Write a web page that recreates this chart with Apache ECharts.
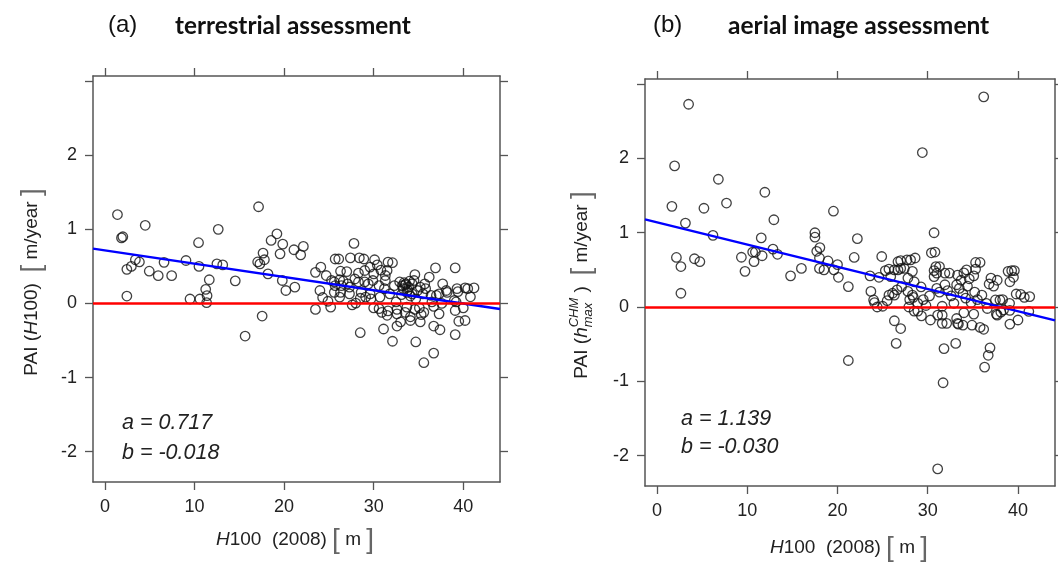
<!DOCTYPE html>
<html style="height: 100%">
<head>
<meta charset="utf-8">
<script src="https://cdn.jsdelivr.net/npm/echarts@6/dist/echarts.min.js"></script>
</head>
<body style="height: 100%; margin: 0; background: #fff">
<div id="container" style="width: 1058px; height: 563px"></div>
<script type="text/javascript">
// axis ticks (shared by both panels)
var xTicks = [0, 10, 20, 30, 40];
var yTicks = [-2, -1, 0, 1, 2, 3];
var yLabels = [-2, -1, 0, 1, 2];
var xRange = [-1.33, 44.1];
var yRange = [-2.41, 3.07];

// (a) terrestrial assessment: [H100 2008, PAI]
var terrestrialPoints = [
    [1.4, 1.20], [1.85, 0.885], [2.0, 0.90], [2.45, 0.46], [2.45, 0.10], [2.95, 0.50], [3.4, 0.59],
    [3.85, 0.56], [4.5, 1.055], [4.95, 0.435], [5.95, 0.375], [6.6, 0.555], [7.45, 0.375], [9.05, 0.58],
    [9.5, 0.06], [10.45, 0.82], [10.5, 0.50], [10.6, 0.06], [11.25, 0.19], [11.4, 0.105], [11.35, 0.01],
    [11.65, 0.32], [12.5, 0.535], [12.65, 1.0], [13.15, 0.52], [14.55, 0.305], [15.65, -0.44], [17.15, 1.305],
    [17.05, 0.56], [17.3, 0.535], [17.55, -0.17], [17.65, 0.68], [17.8, 0.59], [18.2, 0.40], [18.55, 0.85],
    [19.2, 0.94], [19.55, 0.67], [19.85, 0.80], [19.8, 0.31], [20.2, 0.175], [21.1, 0.725], [21.2, 0.22],
    [21.85, 0.655], [22.15, 0.77],
    [23.5, 0.42], [24.1, 0.49], [24.0, 0.175], [24.3, 0.08], [24.7, 0.377], [24.9, 0.03], [25.3, 0.31],
    [25.6, 0.29], [25.6, 0.15], [25.7, 0.60], [25.7, 0.24], [26.1, 0.60], [26.3, 0.435], [26.2, 0.32],
    [26.4, 0.24], [26.3, 0.15], [26.2, 0.085], [26.6, 0.30], [27.0, 0.43], [27.1, 0.265], [27.3, 0.13],
    [27.3, 0.22], [27.4, 0.615], [27.8, 0.81], [27.9, 0.33], [28.0, 0.005], [28.3, 0.41], [28.3, 0.29],
    [28.4, 0.615], [28.6, 0.15], [28.5, 0.07], [28.9, 0.60], [29.0, 0.445], [29.0, 0.29], [29.1, 0.085],
    [29.4, 0.265], [29.6, 0.49], [29.6, 0.13], [29.7, 0.063], [29.9, 0.31], [30.0, 0.40], [30.1, 0.59],
    [30.4, 0.52], [30.6, 0.24], [30.7, 0.085], [30.8, 0.45], [31.2, 0.2], [31.3, 0.31], [31.3, 0.377],
    [31.5, 0.445], [31.6, 0.557], [31.8, 0.13], [32.1, 0.55], [32.3, 0.24], [32.5, 0.02], [32.9, 0.29],
    [33.1, 0.12], [33.2, 0.24], [33.3, 0.20], [33.4, 0.28], [33.5, 0.25], [33.6, 0.265], [33.7, 0.15],
    [33.8, 0.18], [33.9, 0.22], [34.0, 0.30], [34.1, 0.10], [34.3, 0.265], [34.3, 0.13], [34.5, 0.31],
    [34.6, 0.39], [34.7, 0.063], [34.9, 0.175], [35.2, 0.22], [35.5, 0.13], [35.7, 0.265], [35.8, 0.2],
    [36.2, 0.355], [36.4, 0.108], [36.5, 0.02], [36.9, 0.48], [37.0, 0.108], [37.3, 0.13], [37.7, 0.265],
    [38.1, 0.175], [38.2, 0.15], [39.0, 0.04], [39.1, 0.48], [39.2, 0.02], [39.3, 0.2], [39.4, 0.16],
    [40.2, 0.21], [40.5, 0.2], [40.8, 0.09], [41.2, 0.21],
    [23.5, -0.08], [25.2, -0.05], [27.6, -0.02], [28.5, -0.395], [30.0, -0.06], [30.6, -0.07], [30.9, -0.12],
    [31.5, -0.16], [31.1, -0.345], [31.6, -0.10], [32.1, -0.51], [32.6, -0.08], [32.6, -0.14], [32.6, -0.305],
    [33.0, -0.25], [33.5, -0.12], [33.7, -0.05], [34.1, -0.18], [34.1, -0.23], [34.6, -0.08], [35.1, -0.06],
    [35.3, -0.15], [35.6, -0.12], [35.2, -0.25], [34.7, -0.52], [35.6, -0.80], [36.7, -0.67], [36.7, -0.305],
    [37.4, -0.355], [36.7, -0.04], [37.3, -0.14], [37.6, 0.0], [39.1, -0.095], [39.5, -0.24], [39.1, -0.42],
    [40.0, -0.06], [40.2, -0.23]
];

// (b) aerial image assessment: [H100 2008, PAI]
var aerialPoints = [
    [1.65, 1.355], [1.95, 1.90], [2.15, 0.667], [2.65, 0.545], [2.65, 0.185], [3.15, 1.13], [3.5, 2.73],
    [4.15, 0.65], [4.75, 0.61], [5.2, 1.33], [6.2, 0.965], [6.8, 1.72], [7.7, 1.40], [9.35, 0.67],
    [9.75, 0.48], [10.6, 0.74], [10.75, 0.61], [10.9, 0.74], [11.55, 0.93], [11.65, 0.69], [11.95, 1.545],
    [12.85, 0.78], [12.95, 1.175], [13.35, 0.71], [14.8, 0.42], [16.0, 0.52], [17.5, 1.0], [17.5, 0.94],
    [17.7, 0.75], [18.05, 0.80], [18.0, 0.66], [18.0, 0.52], [18.5, 0.50], [18.95, 0.62], [19.55, 1.29],
    [19.6, 0.50], [20.0, 0.57], [20.1, 0.40], [21.2, 0.275], [21.2, -0.72], [21.85, 0.667], [22.2, 0.92],
    [23.6, 0.42], [23.7, 0.21], [24.0, 0.095], [24.1, 0.06], [24.4, 0.0], [24.6, 0.40], [24.9, 0.68],
    [25.0, 0.01], [25.3, 0.49], [25.5, 0.085], [25.7, 0.16], [25.7, 0.51], [25.9, 0.41], [26.1, 0.185],
    [26.3, 0.50], [26.3, 0.16], [26.6, 0.23], [26.7, 0.61], [26.7, 0.50], [27.0, 0.52], [27.0, 0.625],
    [27.1, 0.275], [27.4, 0.52], [27.7, 0.635], [27.8, 0.39], [27.8, 0.21], [27.9, 0.0], [28.1, 0.635],
    [28.0, 0.10], [28.3, 0.48], [28.3, 0.16], [28.5, 0.34], [28.6, 0.66], [28.4, 0.13], [28.9, 0.05],
    [29.26, 0.27], [29.4, 2.08], [29.5, 0.10], [29.8, 0.02], [30.2, 0.15], [30.4, 0.73], [30.7, 1.0],
    [30.7, 0.49], [30.7, 0.41], [30.8, 0.74], [30.9, 0.545], [31.0, 0.455], [31.3, 0.545], [31.0, 0.25],
    [31.3, 0.2], [31.6, 0.01], [31.9, 0.455], [31.9, 0.3], [32.2, 0.22], [32.4, 0.455], [32.6, 0.15],
    [32.9, 0.05], [33.3, 0.43], [33.2, 0.3], [33.5, 0.25], [33.7, 0.36], [33.9, 0.18], [34.0, 0.46],
    [34.2, 0.12], [34.3, 0.5], [34.4, 0.28], [34.6, 0.38], [34.8, 0.06], [35.1, 0.42], [35.2, 0.2],
    [35.3, 0.51], [35.3, 0.60], [35.5, 0.1], [35.8, 0.60], [36.0, 0.16], [36.2, 2.83], [36.5, 0.05],
    [36.8, 0.31], [37.0, 0.39], [37.3, 0.28], [37.5, 0.095], [37.7, 0.36], [38.0, 0.095], [38.3, 0.1],
    [38.9, 0.48], [39.07, 0.05], [39.3, 0.49], [39.1, 0.34], [39.6, 0.49], [39.5, 0.40], [39.8, 0.175],
    [40.3, 0.17], [40.7, 0.13], [41.3, 0.14],
    [26.3, -0.185], [26.5, -0.49], [27.0, -0.29], [28.5, -0.055], [28.9, -0.055], [29.3, -0.12], [30.3, -0.175],
    [31.1, -0.11], [31.1, -2.18], [31.6, -0.11], [31.6, -0.22], [32.1, -0.22], [31.8, -0.56], [31.7, -1.02],
    [33.1, -0.49], [33.2, -0.155], [33.3, -0.22], [33.4, -0.23], [33.9, -0.245], [34.0, -0.077], [34.9, -0.245],
    [35.1, -0.095], [35.8, -0.275], [36.2, -0.30], [36.3, -0.81], [36.7, -0.65], [36.9, -0.55], [36.6, -0.02],
    [37.6, -0.095], [37.7, -0.11], [38.1, -0.07], [38.4, -0.04], [39.1, -0.23], [39.1, -0.045], [40.0, -0.175],
    [41.2, -0.06]
];

// fitted lines, end points read at the plot edges
var terrestrialFit = [[-1.33, 0.74], [44.1, -0.075]];
var aerialFit = [[-1.33, 1.18], [44.1, -0.18]];

var labelFont = '"Liberation Sans", Arial, sans-serif';
var axisColor = '#555';

var dom = document.getElementById("container");
var myChart = echarts.init(dom);

// text width helper for the composed axis titles
var ctx = document.createElement('canvas').getContext('2d');
function textWidth(t, font) {
    ctx.font = font;
    return ctx.measureText(t).width;
}
function piece(t, font, dy, fill) {
    return {t: t, font: font, dy: dy || 0, fill: fill || '#222'};
}
// lay pieces out in a row; a piece with stack:true shares x with the next one
function buildRow(pieces) {
    var x = 0, children = [], stackW = null, stackX = 0;
    pieces.forEach(function (p) {
        var w = textWidth(p.t, p.font);
        var px = stackW !== null ? stackX : x;
        children.push({
            type: 'text', x: px, y: p.dy,
            style: {text: p.t, font: p.font, fill: p.fill,
                align: 'left', verticalAlign: 'middle', textAlign: 'left', textVerticalAlign: 'middle'}
        });
        if (p.stack) {
            stackW = w; stackX = x;
        } else if (stackW !== null) {
            x = stackX + Math.max(w, stackW);
            stackW = null;
        } else {
            x += w;
        }
    });
    children.forEach(function (c) { c.x -= x / 2; });
    return children;
}

var reg = '19px ' + labelFont;
var ita = 'italic 19px ' + labelFont;
var small = 'italic 13px ' + labelFont;
var brk = '28px ' + labelFont;
var brkColor = '#666';

var yTitleA = buildRow([
    piece('PAI (', reg), piece('H', ita), piece('100)  ', reg),
    piece('[', brk, 0, brkColor), piece(' m/year ', reg), piece(']', brk, 0, brkColor)
]);
var yTitleB = buildRow([
    piece('PAI (', reg), piece('h', ita),
    {t: 'CHM', font: small, dy: -8, fill: '#222', stack: true}, piece('max', small, 6),
    piece(' )  ', reg),
    piece('[', brk, 0, brkColor), piece(' m/year ', reg), piece(']', brk, 0, brkColor)
]);
function xTitle() {
    return buildRow([
        piece('H', ita), piece('100  (2008) ', reg),
        piece('[', brk, 0, brkColor), piece(' m ', reg), piece(']', brk, 0, brkColor)
    ]);
}

function xAxis(grid, pos, labels) {
    return {
        type: 'value', gridIndex: grid, position: pos, min: xRange[0], max: xRange[1],
        axisLine: {show: true, onZero: false, lineStyle: {color: axisColor, width: 1.5}},
        axisTick: {show: true, length: 8, customValues: xTicks, lineStyle: {color: axisColor, width: 1.3}},
        axisLabel: {show: labels, customValues: xTicks, fontSize: 18, color: '#222', margin: 16, fontFamily: labelFont},
        splitLine: {show: false}
    };
}
function yAxis(grid, pos, labels) {
    return {
        type: 'value', gridIndex: grid, position: pos, min: yRange[0], max: yRange[1],
        axisLine: {show: true, onZero: false, lineStyle: {color: axisColor, width: 1.5}},
        axisTick: {show: true, length: 8, customValues: yTicks, lineStyle: {color: axisColor, width: 1.3}},
        axisLabel: {show: labels, customValues: yLabels, fontSize: 18, color: '#222', margin: 16, fontFamily: labelFont},
        splitLine: {show: false}
    };
}

function scatter(xi, yi, data) {
    return {
        type: 'scatter', xAxisIndex: xi, yAxisIndex: yi, data: data,
        symbol: 'circle', symbolSize: 9.5, silent: true,
        itemStyle: {color: 'rgba(0,0,0,0)', borderColor: '#111', borderWidth: 1.3}
    };
}
function fitLine(xi, yi, data) {
    return {
        type: 'line', xAxisIndex: xi, yAxisIndex: yi, data: data, symbol: 'none', silent: true, z: 4,
        lineStyle: {color: '#0000ff', width: 2.5},
        markLine: {
            silent: true, symbol: ['none', 'none'], label: {show: false},
            lineStyle: {color: '#ff0000', width: 2.5, type: 'solid'},
            data: [{yAxis: 0}]
        }
    };
}

function note(x, y, t) {
    return {type: 'text', x: x, y: y,
        style: {text: t, font: 'italic 21.5px ' + labelFont, fill: '#222',
            align: 'left', verticalAlign: 'middle', textAlign: 'left', textVerticalAlign: 'middle'}};
}
function heading(x, y, t, size, bold) {
    return {type: 'text', x: x, y: y,
        style: {text: t, font: bold ? 'bold ' + size + 'px Lato' : size + 'px ' + labelFont, fill: '#111',
            align: 'left', verticalAlign: 'middle', textAlign: 'left', textVerticalAlign: 'middle'}};
}

option = {
    animation: false,
    backgroundColor: '#fff',
    grid: [
        {left: 93, top: 76, width: 407, height: 406},
        {left: 645, top: 79, width: 410, height: 407}
    ],
    xAxis: [xAxis(0, 'bottom', true), xAxis(0, 'top', false), xAxis(1, 'bottom', true), xAxis(1, 'top', false)],
    yAxis: [yAxis(0, 'left', true), yAxis(0, 'right', false), yAxis(1, 'left', true), yAxis(1, 'right', false)],
    series: [
        scatter(0, 0, terrestrialPoints),
        fitLine(0, 0, terrestrialFit),
        scatter(2, 2, aerialPoints),
        fitLine(2, 2, aerialFit)
    ],
    graphic: [
        heading(108, 25, '(a)', 24, false),
        heading(175, 26, 'terrestrial assessment', 24.3, true),
        heading(653, 25, '(b)', 24, false),
        heading(728, 26, 'aerial image assessment', 24.5, true),
        {type: 'group', x: 32, y: 282, rotation: Math.PI / 2, children: yTitleA},
        {type: 'group', x: 582, y: 285, rotation: Math.PI / 2, children: yTitleB},
        {type: 'group', x: 295, y: 540, children: xTitle()},
        {type: 'group', x: 849, y: 548, children: xTitle()},
        note(122, 423, 'a = 0.717'),
        note(122, 453, 'b = -0.018'),
        note(681, 419, 'a = 1.139'),
        note(681, 447, 'b = -0.030')
    ]
};
if (option && typeof option === "object") {
    myChart.setOption(option, true);
}
</script>
</body>
</html>
